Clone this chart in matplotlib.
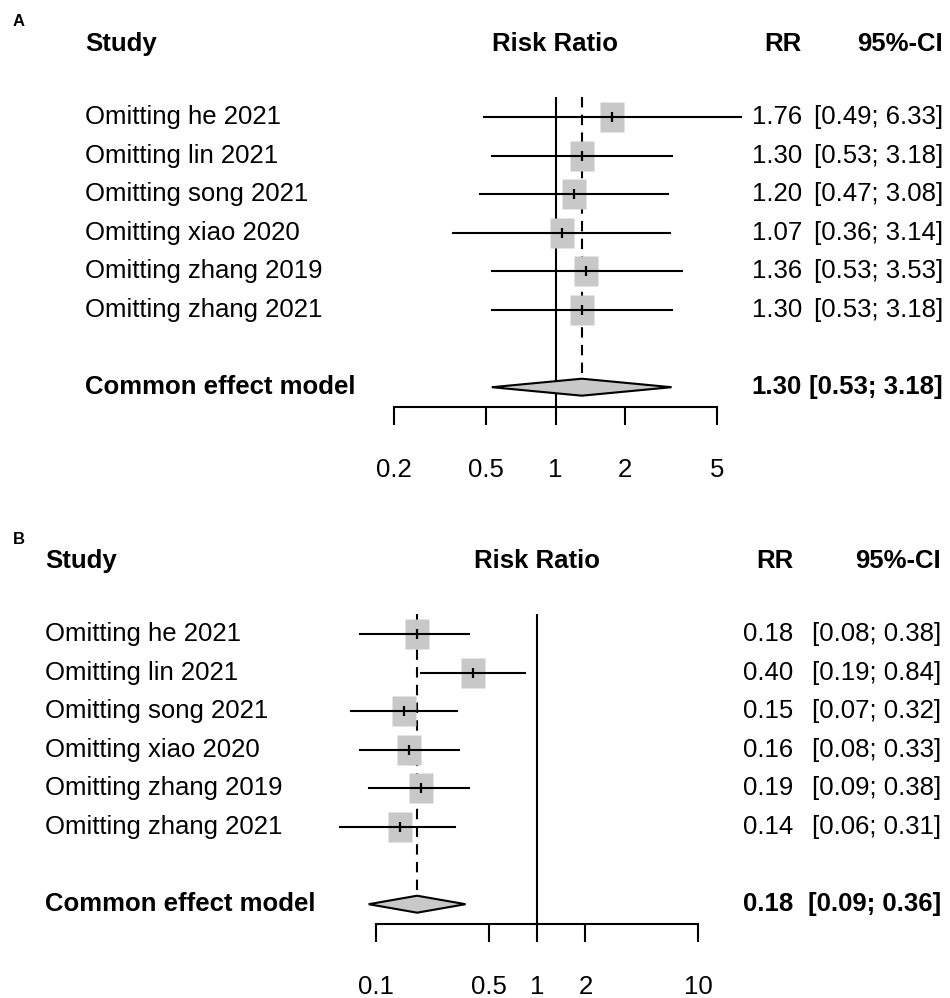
import numpy as np
import matplotlib.pyplot as plt
from matplotlib.path import Path
from matplotlib.ticker import NullLocator
from matplotlib.transforms import blended_transform_factory

plt.rcParams['font.family'] = ['Liberation Sans', 'DejaVu Sans']

studies = ["Omitting he 2021", "Omitting lin 2021", "Omitting song 2021",
           "Omitting xiao 2020", "Omitting zhang 2019", "Omitting zhang 2021"]

# panel A
rr_a = [1.76, 1.30, 1.20, 1.07, 1.36, 1.30]
lo_a = [0.49, 0.53, 0.47, 0.36, 0.53, 0.53]
hi_a = [6.33, 3.18, 3.08, 3.14, 3.53, 3.18]
pooled_a = [1.30, 0.53, 3.18]
ticks_a = [0.2, 0.5, 1, 2, 5]
ticklab_a = ["0.2", "0.5", "1", "2", "5"]

# panel B
rr_b = [0.18, 0.40, 0.15, 0.16, 0.19, 0.14]
lo_b = [0.08, 0.19, 0.07, 0.08, 0.09, 0.06]
hi_b = [0.38, 0.84, 0.32, 0.33, 0.38, 0.31]
pooled_b = [0.18, 0.09, 0.36]
ticks_b = [0.1, 0.5, 1, 2, 10]
ticklab_b = ["0.1", "0.5", "1", "2", "10"]

W, H = 950, 998
FS = 18.5
LW = 1.5
GREY = "#c8c8c8"
ROWH = 38.6

fig = plt.figure(figsize=(W / 100, H / 100), dpi=100)

# box marker, a bit taller than wide like in the original
box = Path([(-12, -14.5), (12, -14.5), (12, 14.5), (-12, 14.5), (-12, -14.5)],
           [Path.MOVETO, Path.LINETO, Path.LINETO, Path.LINETO, Path.CLOSEPOLY])


def panel(letter, letter_y, first_row, x0, x1, left, rr_right, ci_right,
          rr, lo, hi, pooled, ticks, ticklab):
    y_top = first_row - 0.53 * ROWH
    y_axis = first_row + 7.5 * ROWH
    ax = fig.add_axes([x0 / W, 1 - y_axis / H, (x1 - x0) / W, (y_axis - y_top) / H])
    ax.set_xscale('log')
    ax.set_xlim(ticks[0], ticks[-1])
    ax.set_ylim(7.5, -0.53)

    n = len(rr)
    rows = np.arange(n)
    pr = n + 1  # pooled row, after a blank line

    ax.axvline(1, color='black', lw=LW, zorder=1)
    ax.plot([pooled[0], pooled[0]], [-0.53, 6.7], color='black', lw=LW,
            dashes=(5, 3.5), zorder=1)

    ax.plot(rr, rows, ls='none', marker=box, ms=21, color=GREY, mec='none',
            zorder=2, clip_on=False)
    for i in range(n):
        ax.plot([lo[i], hi[i]], [i, i], color='black', lw=LW, zorder=3, clip_on=False)
    ax.plot(rr, rows, ls='none', marker='|', ms=7, mew=1.6, color='black',
            zorder=4, clip_on=False)

    est, plo, phi = pooled
    ax.fill([plo, est, phi, est], [pr, pr - 0.22, pr, pr + 0.22],
            facecolor=GREY, edgecolor='black', lw=LW, zorder=3, clip_on=False)

    for s in ['top', 'left', 'right']:
        ax.spines[s].set_visible(False)
    ax.spines['bottom'].set_linewidth(LW)
    ax.set_yticks([])
    ax.set_xticks(ticks)
    ax.set_xticklabels(ticklab)
    ax.xaxis.set_minor_locator(NullLocator())
    ax.tick_params(axis='x', direction='out', length=13, width=LW, pad=24, labelsize=FS)
    ax.patch.set_visible(False)

    tr = blended_transform_factory(fig.transFigure, ax.transData)
    hy = -1.9
    ax.text(left / W, hy, "Study", transform=tr, fontsize=FS, fontweight='bold',
            va='center', ha='left')
    ax.text(np.sqrt(ticks[0] * ticks[-1]), hy, "Risk Ratio", fontsize=FS,
            fontweight='bold', va='center', ha='center', clip_on=False)
    ax.text(rr_right / W, hy, "RR", transform=tr, fontsize=FS, fontweight='bold',
            va='center', ha='right')
    ax.text(ci_right / W, hy, "95%-CI", transform=tr, fontsize=FS, fontweight='bold',
            va='center', ha='right')

    for i in range(n):
        ax.text(left / W, i, studies[i], transform=tr, fontsize=FS, va='center', ha='left')
        ax.text(rr_right / W, i, f"{rr[i]:.2f}", transform=tr, fontsize=FS,
                va='center', ha='right')
        ax.text(ci_right / W, i, f"[{lo[i]:.2f}; {hi[i]:.2f}]", transform=tr,
                fontsize=FS, va='center', ha='right')

    ax.text(left / W, pr, "Common effect model", transform=tr, fontsize=FS,
            fontweight='bold', va='center', ha='left')
    ax.text(rr_right / W, pr, f"{est:.2f}", transform=tr, fontsize=FS,
            fontweight='bold', va='center', ha='right')
    ax.text(ci_right / W, pr, f"[{plo:.2f}; {phi:.2f}]", transform=tr, fontsize=FS,
            fontweight='bold', va='center', ha='right')

    fig.text(13 / W, 1 - letter_y / H, letter, fontsize=12, fontweight='bold',
             va='center', ha='left')
    return ax


panel("A", 22, 117, 394, 717, 85, 802, 943, rr_a, lo_a, hi_a, pooled_a, ticks_a, ticklab_a)
panel("B", 540, 634, 376, 698, 45, 793, 941, rr_b, lo_b, hi_b, pooled_b, ticks_b, ticklab_b)

fig.savefig("out.png", dpi=100, facecolor='white')
